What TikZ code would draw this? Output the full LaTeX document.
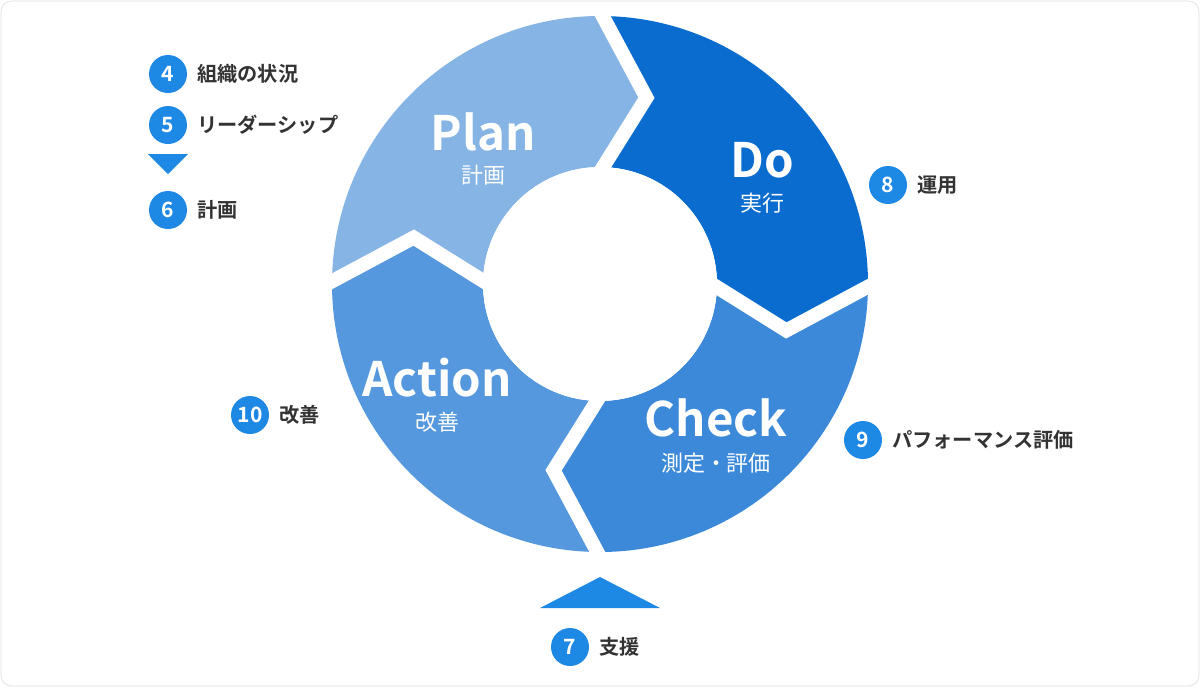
\documentclass[tikz,border=0pt]{standalone}
\usepackage{fontspec}
\usetikzlibrary{calc}
\setmainfont{Noto Sans CJK JP}
\newfontfamily\bfjp{Noto Sans CJK JP Bold}
\begin{document}
\begin{tikzpicture}[x=0.02cm,y=-0.02cm]
\definecolor{cplan}{HTML}{85B4E5}
\definecolor{cdo}{HTML}{0A6CCE}
\definecolor{ccheck}{HTML}{3D89D9}
\definecolor{caction}{HTML}{5598DD}
\definecolor{cbadge}{HTML}{1E88E5}
\definecolor{ctext}{HTML}{333333}
\tikzset{
 badge/.style={circle,fill=cbadge,text=white,minimum size=38*0.02cm,inner sep=0pt,font=\bfjp\fontsize{12}{12}\selectfont},
 item/.style={anchor=west,text=ctext,font=\bfjp\fontsize{11.5}{12}\selectfont,inner sep=0pt},
 big/.style={text=white,font=\bfjp\fontsize{27}{28}\selectfont,inner sep=0pt},
 sub/.style={text=white,font=\fontsize{12.5}{13}\selectfont,inner sep=0pt},
 sep/.style={white,line width=8pt,line join=miter}
}
\fill[white] (0,0) rectangle (1200,687);
\draw[gray!25,rounded corners=6pt] (1,1) rectangle (1199,686);
\def\R{268}\def\r{117}\def\m{192}\def\d{14}
\foreach \a/\c in {180/cplan,90/cdo,0/ccheck,-90/caction}{
 \pgfmathsetmacro{\b}{\a-90}
 \fill[\c] ($(600,284)+(-\a:\R)$) arc[start angle=-\a,end angle=-\b,radius=\R]
   -- ($(600,284)+(-\b+\d:\m)$) -- ($(600,284)+(-\b:\r)$)
   arc[start angle=-\b,end angle=-\a,radius=\r]
   -- ($(600,284)+(-\a+\d:\m)$) -- cycle;
}
\foreach \a in {0,90,180,270}{
 \draw[sep] ($(600,284)+(-\a:\r-5)$) -- ($(600,284)+(-\a+\d:\m)$) -- ($(600,284)+(-\a:\R+5)$);
}
\fill[white] (600,284) circle[radius=\r];
\node[big] (plan) at (483,132) {Plan};
\node[sub] (plans) at (483,175) {計画};
\node[big] (do) at (762,160) {Do};
\node[sub] (dos) at (762,203) {実行};
\node[big] (act) at (437,378) {Action};
\node[sub] (acts) at (437,422) {改善};
\node[big] (chk) at (716,418) {Check};
\node[sub] (chks) at (716,463) {測定・評価};
\node[badge] (b4) at (168,74) {4};
\node[item] (t4) at (197,74) {組織の状況};
\node[badge] (b5) at (168,125) {5};
\node[item] (t5) at (197,125) {リーダーシップ};
\fill[cbadge] (148,154) -- (188,154) -- (168,174) -- cycle;
\node[badge] (b6) at (168,210) {6};
\node[item] (t6) at (197,210) {計画};
\node[badge] (b8) at (888,185) {8};
\node[item] (t8) at (917,185) {運用};
\node[badge] (b9) at (863,440) {9};
\node[item] (t9) at (892,440) {パフォーマンス評価};
\node[badge] (b10) at (250,415) {10};
\node[item] (t10) at (279,415) {改善};
\fill[cbadge] (540,608) -- (660,608) -- (600,577) -- cycle;
\node[badge] (b7) at (570,647) {7};
\node[item] (t7) at (599,647) {支援};
\end{tikzpicture}
\end{document}
